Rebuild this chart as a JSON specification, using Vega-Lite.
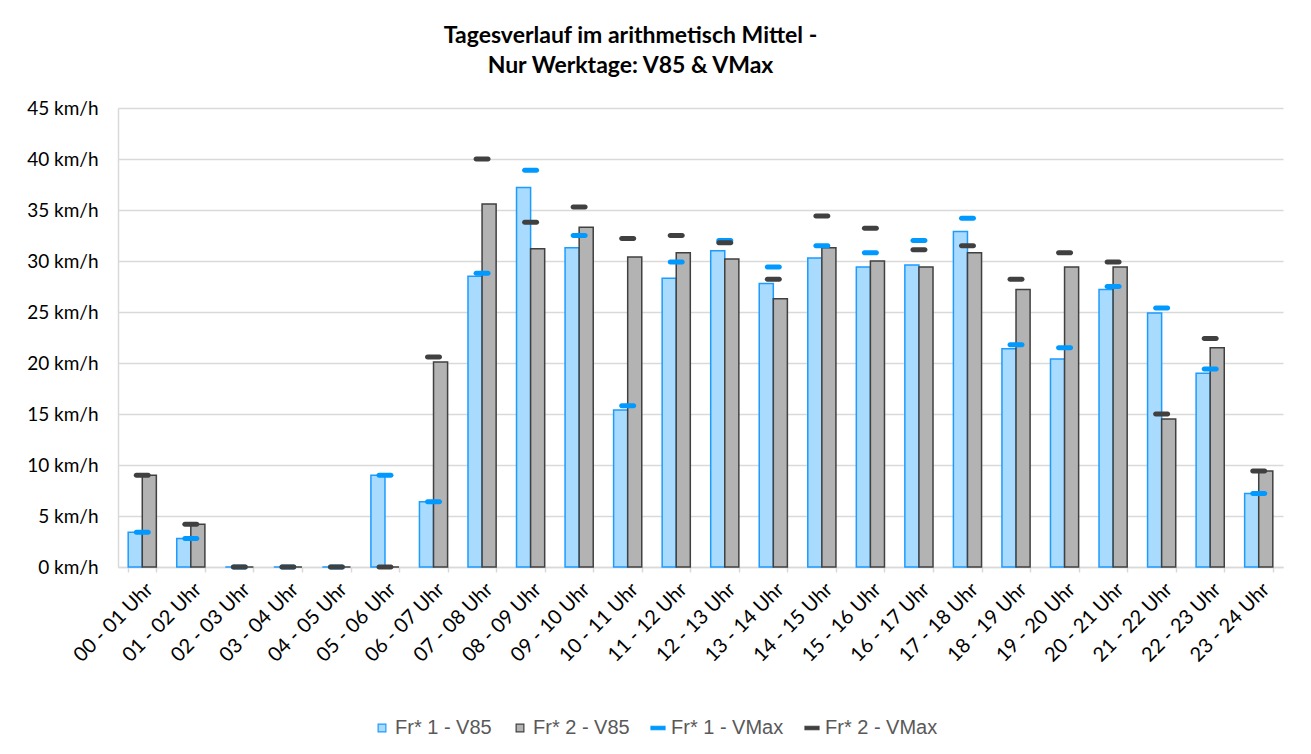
{
  "$schema": "https://vega.github.io/schema/vega-lite/v6.json",
  "width": 1165,
  "height": 459,
  "autosize": {"type": "none"},
  "padding": {"left": 118, "top": 108, "right": 28, "bottom": 187},
  "background": "white",
  "config": {"view": {"stroke": null}},
  "title": {
    "text": ["Tagesverlauf im arithmetisch Mittel -", "Nur Werktage: V85 & VMax"],
    "font": "Lato", "fontSize": 23, "fontWeight": "bold", "color": "#000000",
    "lineHeight": 30, "offset": 21, "dx": -70, "anchor": "middle"
  },
  "data": {"values": [
    {"hour": "00 - 01 Uhr", "series": "Fr* 1 - V85", "value": 3.4}, {"hour": "00 - 01 Uhr", "series": "Fr* 2 - V85", "value": 9.0}, {"hour": "00 - 01 Uhr", "series": "Fr* 1 - VMax", "value": 3.4}, {"hour": "00 - 01 Uhr", "series": "Fr* 2 - VMax", "value": 9.0},
    {"hour": "01 - 02 Uhr", "series": "Fr* 1 - V85", "value": 2.8}, {"hour": "01 - 02 Uhr", "series": "Fr* 2 - V85", "value": 4.2}, {"hour": "01 - 02 Uhr", "series": "Fr* 1 - VMax", "value": 2.8}, {"hour": "01 - 02 Uhr", "series": "Fr* 2 - VMax", "value": 4.2},
    {"hour": "02 - 03 Uhr", "series": "Fr* 1 - V85", "value": 0}, {"hour": "02 - 03 Uhr", "series": "Fr* 2 - V85", "value": 0}, {"hour": "02 - 03 Uhr", "series": "Fr* 1 - VMax", "value": 0}, {"hour": "02 - 03 Uhr", "series": "Fr* 2 - VMax", "value": 0},
    {"hour": "03 - 04 Uhr", "series": "Fr* 1 - V85", "value": 0}, {"hour": "03 - 04 Uhr", "series": "Fr* 2 - V85", "value": 0}, {"hour": "03 - 04 Uhr", "series": "Fr* 1 - VMax", "value": 0}, {"hour": "03 - 04 Uhr", "series": "Fr* 2 - VMax", "value": 0},
    {"hour": "04 - 05 Uhr", "series": "Fr* 1 - V85", "value": 0}, {"hour": "04 - 05 Uhr", "series": "Fr* 2 - V85", "value": 0}, {"hour": "04 - 05 Uhr", "series": "Fr* 1 - VMax", "value": 0}, {"hour": "04 - 05 Uhr", "series": "Fr* 2 - VMax", "value": 0},
    {"hour": "05 - 06 Uhr", "series": "Fr* 1 - V85", "value": 9.0}, {"hour": "05 - 06 Uhr", "series": "Fr* 2 - V85", "value": 0}, {"hour": "05 - 06 Uhr", "series": "Fr* 1 - VMax", "value": 9.0}, {"hour": "05 - 06 Uhr", "series": "Fr* 2 - VMax", "value": 0},
    {"hour": "06 - 07 Uhr", "series": "Fr* 1 - V85", "value": 6.4}, {"hour": "06 - 07 Uhr", "series": "Fr* 2 - V85", "value": 20.1}, {"hour": "06 - 07 Uhr", "series": "Fr* 1 - VMax", "value": 6.4}, {"hour": "06 - 07 Uhr", "series": "Fr* 2 - VMax", "value": 20.6},
    {"hour": "07 - 08 Uhr", "series": "Fr* 1 - V85", "value": 28.5}, {"hour": "07 - 08 Uhr", "series": "Fr* 2 - V85", "value": 35.6}, {"hour": "07 - 08 Uhr", "series": "Fr* 1 - VMax", "value": 28.8}, {"hour": "07 - 08 Uhr", "series": "Fr* 2 - VMax", "value": 40.0},
    {"hour": "08 - 09 Uhr", "series": "Fr* 1 - V85", "value": 37.2}, {"hour": "08 - 09 Uhr", "series": "Fr* 2 - V85", "value": 31.2}, {"hour": "08 - 09 Uhr", "series": "Fr* 1 - VMax", "value": 38.9}, {"hour": "08 - 09 Uhr", "series": "Fr* 2 - VMax", "value": 33.8},
    {"hour": "09 - 10 Uhr", "series": "Fr* 1 - V85", "value": 31.3}, {"hour": "09 - 10 Uhr", "series": "Fr* 2 - V85", "value": 33.3}, {"hour": "09 - 10 Uhr", "series": "Fr* 1 - VMax", "value": 32.5}, {"hour": "09 - 10 Uhr", "series": "Fr* 2 - VMax", "value": 35.3},
    {"hour": "10 - 11 Uhr", "series": "Fr* 1 - V85", "value": 15.4}, {"hour": "10 - 11 Uhr", "series": "Fr* 2 - V85", "value": 30.4}, {"hour": "10 - 11 Uhr", "series": "Fr* 1 - VMax", "value": 15.8}, {"hour": "10 - 11 Uhr", "series": "Fr* 2 - VMax", "value": 32.2},
    {"hour": "11 - 12 Uhr", "series": "Fr* 1 - V85", "value": 28.3}, {"hour": "11 - 12 Uhr", "series": "Fr* 2 - V85", "value": 30.8}, {"hour": "11 - 12 Uhr", "series": "Fr* 1 - VMax", "value": 29.9}, {"hour": "11 - 12 Uhr", "series": "Fr* 2 - VMax", "value": 32.5},
    {"hour": "12 - 13 Uhr", "series": "Fr* 1 - V85", "value": 31.0}, {"hour": "12 - 13 Uhr", "series": "Fr* 2 - V85", "value": 30.2}, {"hour": "12 - 13 Uhr", "series": "Fr* 1 - VMax", "value": 32.0}, {"hour": "12 - 13 Uhr", "series": "Fr* 2 - VMax", "value": 31.8},
    {"hour": "13 - 14 Uhr", "series": "Fr* 1 - V85", "value": 27.8}, {"hour": "13 - 14 Uhr", "series": "Fr* 2 - V85", "value": 26.3}, {"hour": "13 - 14 Uhr", "series": "Fr* 1 - VMax", "value": 29.4}, {"hour": "13 - 14 Uhr", "series": "Fr* 2 - VMax", "value": 28.2},
    {"hour": "14 - 15 Uhr", "series": "Fr* 1 - V85", "value": 30.3}, {"hour": "14 - 15 Uhr", "series": "Fr* 2 - V85", "value": 31.3}, {"hour": "14 - 15 Uhr", "series": "Fr* 1 - VMax", "value": 31.5}, {"hour": "14 - 15 Uhr", "series": "Fr* 2 - VMax", "value": 34.4},
    {"hour": "15 - 16 Uhr", "series": "Fr* 1 - V85", "value": 29.4}, {"hour": "15 - 16 Uhr", "series": "Fr* 2 - V85", "value": 30.0}, {"hour": "15 - 16 Uhr", "series": "Fr* 1 - VMax", "value": 30.8}, {"hour": "15 - 16 Uhr", "series": "Fr* 2 - VMax", "value": 33.2},
    {"hour": "16 - 17 Uhr", "series": "Fr* 1 - V85", "value": 29.6}, {"hour": "16 - 17 Uhr", "series": "Fr* 2 - V85", "value": 29.4}, {"hour": "16 - 17 Uhr", "series": "Fr* 1 - VMax", "value": 32.0}, {"hour": "16 - 17 Uhr", "series": "Fr* 2 - VMax", "value": 31.1},
    {"hour": "17 - 18 Uhr", "series": "Fr* 1 - V85", "value": 32.9}, {"hour": "17 - 18 Uhr", "series": "Fr* 2 - V85", "value": 30.8}, {"hour": "17 - 18 Uhr", "series": "Fr* 1 - VMax", "value": 34.2}, {"hour": "17 - 18 Uhr", "series": "Fr* 2 - VMax", "value": 31.5},
    {"hour": "18 - 19 Uhr", "series": "Fr* 1 - V85", "value": 21.4}, {"hour": "18 - 19 Uhr", "series": "Fr* 2 - V85", "value": 27.2}, {"hour": "18 - 19 Uhr", "series": "Fr* 1 - VMax", "value": 21.8}, {"hour": "18 - 19 Uhr", "series": "Fr* 2 - VMax", "value": 28.2},
    {"hour": "19 - 20 Uhr", "series": "Fr* 1 - V85", "value": 20.4}, {"hour": "19 - 20 Uhr", "series": "Fr* 2 - V85", "value": 29.4}, {"hour": "19 - 20 Uhr", "series": "Fr* 1 - VMax", "value": 21.5}, {"hour": "19 - 20 Uhr", "series": "Fr* 2 - VMax", "value": 30.8},
    {"hour": "20 - 21 Uhr", "series": "Fr* 1 - V85", "value": 27.2}, {"hour": "20 - 21 Uhr", "series": "Fr* 2 - V85", "value": 29.4}, {"hour": "20 - 21 Uhr", "series": "Fr* 1 - VMax", "value": 27.5}, {"hour": "20 - 21 Uhr", "series": "Fr* 2 - VMax", "value": 29.9},
    {"hour": "21 - 22 Uhr", "series": "Fr* 1 - V85", "value": 24.9}, {"hour": "21 - 22 Uhr", "series": "Fr* 2 - V85", "value": 14.5}, {"hour": "21 - 22 Uhr", "series": "Fr* 1 - VMax", "value": 25.4}, {"hour": "21 - 22 Uhr", "series": "Fr* 2 - VMax", "value": 15.0},
    {"hour": "22 - 23 Uhr", "series": "Fr* 1 - V85", "value": 19.0}, {"hour": "22 - 23 Uhr", "series": "Fr* 2 - V85", "value": 21.5}, {"hour": "22 - 23 Uhr", "series": "Fr* 1 - VMax", "value": 19.4}, {"hour": "22 - 23 Uhr", "series": "Fr* 2 - VMax", "value": 22.4},
    {"hour": "23 - 24 Uhr", "series": "Fr* 1 - V85", "value": 7.2}, {"hour": "23 - 24 Uhr", "series": "Fr* 2 - V85", "value": 9.4}, {"hour": "23 - 24 Uhr", "series": "Fr* 1 - VMax", "value": 7.2}, {"hour": "23 - 24 Uhr", "series": "Fr* 2 - VMax", "value": 9.4}
  ]},
  "encoding": {
    "x": {
      "field": "hour", "type": "nominal", "sort": null,
      "scale": {"paddingInner": 0.42, "paddingOuter": 0.21},
      "axis": {
        "title": null, "labelAngle": -45, "labelFont": "Lato", "labelFontSize": 20, "labelColor": "#000000",
        "domainColor": "#D9D9D9", "domainWidth": 1.5, "tickColor": "#D9D9D9", "tickWidth": 1.5, "tickBand": "extent", "tickSize": 5, "labelPadding": 7
      }
    },
    "y": {
      "field": "value", "type": "quantitative",
      "scale": {"domain": [0, 45], "nice": false},
      "axis": {
        "title": null, "values": [0, 5, 10, 15, 20, 25, 30, 35, 40, 45],
        "labelExpr": "datum.value + ' km/h'", "ticks": false, "tickSize": 0, "labelPadding": 20,
        "labelFont": "Lato", "labelFontSize": 19, "labelColor": "#000000",
        "domainColor": "#D9D9D9", "domainWidth": 1.5, "gridColor": "#D9D9D9", "gridWidth": 1.5
      }
    }
  },
  "layer": [
    {
      "transform": [{"filter": {"field": "series", "oneOf": ["Fr* 1 - V85", "Fr* 2 - V85"]}}],
      "mark": {"type": "bar", "strokeWidth": 1.5},
      "encoding": {
        "xOffset": {"field": "series", "type": "nominal", "scale": {"domain": ["Fr* 1 - V85", "Fr* 2 - V85"], "paddingInner": 0, "paddingOuter": 0}},
        "fill": {
          "field": "series", "type": "nominal",
          "scale": {"domain": ["Fr* 1 - V85", "Fr* 2 - V85", "Fr* 1 - VMax", "Fr* 2 - VMax"], "range": ["#A9DBFF", "#B3B3B3", "#0099FF", "#404040"]},
          "legend": {
            "orient": "none", "legendX": 254, "legendY": 610, "direction": "horizontal", "columns": 4, "title": null,
            "labelFont": "Liberation Sans", "labelFontSize": 20, "labelColor": "#595959", "labelOffset": 3,
            "symbolSize": 60, "symbolStrokeWidth": 1.2, "columnPadding": 18,
            "encode": {"symbols": {"update": {
              "shape": {"signal": "indexof(datum.value, 'VMax') >= 0 ? 'M-1.8,-0.45H1.8V0.45H-1.8Z' : 'square'"},
              "stroke": {"signal": "datum.value == 'Fr* 1 - V85' ? '#1E9BFF' : datum.value == 'Fr* 2 - V85' ? '#404040' : datum.value == 'Fr* 1 - VMax' ? '#0099FF' : '#404040'"}
            }}}
          }
        },
        "stroke": {
          "field": "series", "type": "nominal",
          "scale": {"domain": ["Fr* 1 - V85", "Fr* 2 - V85", "Fr* 1 - VMax", "Fr* 2 - VMax"], "range": ["#1E9BFF", "#404040", "#0099FF", "#404040"]},
          "legend": null
        }
      }
    },
    {
      "transform": [{"filter": {"field": "series", "oneOf": ["Fr* 1 - VMax", "Fr* 2 - VMax"]}}],
      "mark": {"type": "tick", "thickness": 5, "size": 17, "cornerRadius": 2.5, "strokeWidth": 0, "opacity": 1},
      "encoding": {
        "fill": {"field": "series", "type": "nominal"}
      }
    }
  ]
}
